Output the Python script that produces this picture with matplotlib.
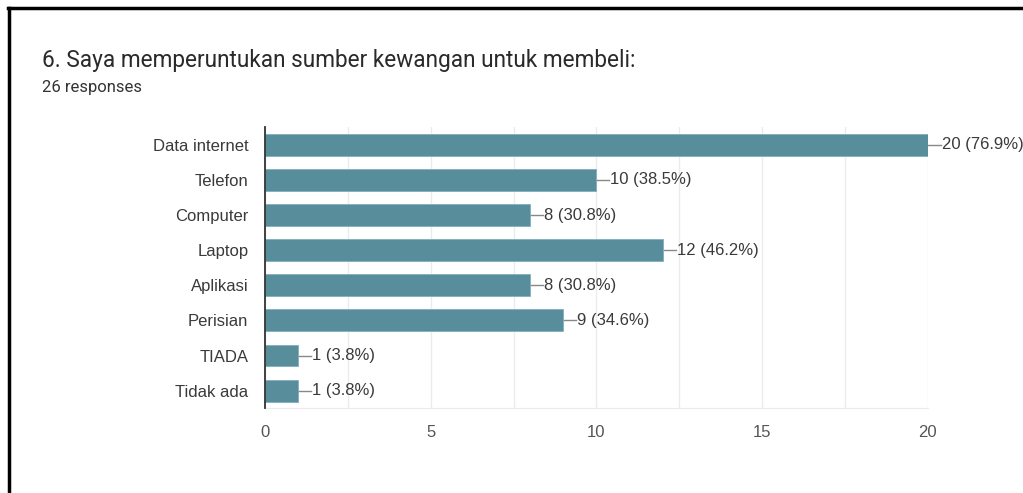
import numpy as np
import matplotlib
matplotlib.use('Agg')
import matplotlib.pyplot as plt
from matplotlib.lines import Line2D

plt.rcParams['font.family'] = ['Liberation Sans', 'DejaVu Sans']

categories = ['Data internet', 'Telefon', 'Computer', 'Laptop', 'Aplikasi', 'Perisian', 'TIADA', 'Tidak ada']
counts = [20, 10, 8, 12, 8, 9, 1, 1]
pcts = ['76.9%', '38.5%', '30.8%', '46.2%', '30.8%', '34.6%', '3.8%', '3.8%']
title = '6. Saya memperuntukan sumber kewangan untuk membeli:'
subtitle = '26 responses'

fig = plt.figure(figsize=(10.23, 4.93), dpi=100)
ax = fig.add_axes([0.259, 0.172, 0.648, 0.570])

y = np.arange(len(categories))
ax.barh(y, counts, height=0.62, color='#588e9b', edgecolor='#7fb0bd', linewidth=0.6, zorder=3)
ax.set_ylim(len(categories) - 0.5, -0.5)
ax.set_xlim(0, 20)
ax.set_yticks(y)
ax.set_yticklabels(categories, fontsize=12, color='#3a3a3a')
ax.set_xticks([0, 5, 10, 15, 20])
ax.set_xticks(np.arange(0, 20.1, 2.5), minor=True)
ax.tick_params(axis='x', labelsize=12, colors='#555555', length=0, pad=12, which='both')
ax.tick_params(axis='y', length=0, pad=12)
ax.grid(axis='x', which='both', color='#ebebeb', linewidth=1, zorder=0)
for s in ['top', 'right']:
    ax.spines[s].set_visible(False)
ax.spines['bottom'].set_color('#ebebeb')
ax.spines['left'].set_color('#333333')
ax.spines['left'].set_linewidth(1.3)
ax.spines['left'].set_zorder(4)

px = 20 / (0.648 * 1023)  # data units per pixel
for i, (c, p) in enumerate(zip(counts, pcts)):
    ax.plot([c, c + 13 * px], [i, i], color='#888888', linewidth=1, zorder=2, clip_on=False)
    ax.text(c + 14 * px, i, f'{c} ({p})', va='center', ha='left', fontsize=12,
            color='#3a3a3a', clip_on=False)

fig.text(0.041, 0.877, title, fontsize=16.3, color='#2a2a2a', va='center', family=['Roboto', 'DejaVu Sans'])
fig.text(0.041, 0.823, subtitle, fontsize=12, color='#333333', va='center', family=['Roboto', 'DejaVu Sans'])

# frame of the screenshot
fig.add_artist(Line2D([0.009, 0.009], [0, 0.984], color='black', linewidth=2.5, transform=fig.transFigure))
fig.add_artist(Line2D([0.008, 1.0], [0.984, 0.984], color='black', linewidth=2.5, transform=fig.transFigure))

fig.savefig('out.png', dpi=100)
